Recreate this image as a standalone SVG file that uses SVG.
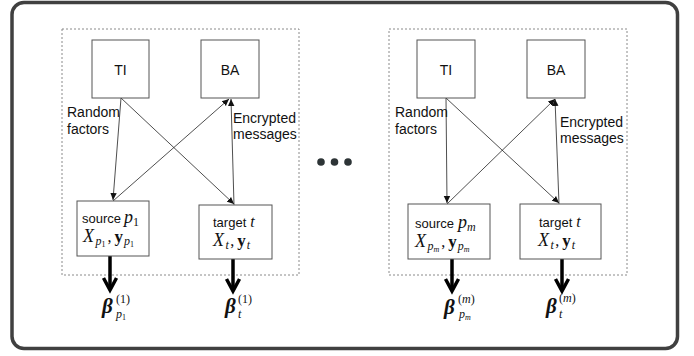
<svg xmlns="http://www.w3.org/2000/svg" width="694" height="356" viewBox="0 0 694 356">
<defs>
<marker id="ah" markerWidth="8" markerHeight="8" refX="7" refY="4" orient="auto" markerUnits="userSpaceOnUse">
<path d="M0,0.8 L7,4 L0,7.2 Z" fill="#111"/>
</marker>
<style>
.frame{fill:#fff;stroke:#404040;stroke-width:3.5}
.group{fill:none;stroke:#8a8a8a;stroke-width:1;stroke-dasharray:2 2}
.box{fill:#fff;stroke:#555;stroke-width:1}
.sans{font-family:"Liberation Sans",Arial,sans-serif;font-size:14px;fill:#111}
.bs{font-family:"Liberation Sans",Arial,sans-serif;font-size:13px;fill:#111}
.mi{font-family:"Liberation Serif","Times New Roman",serif;font-style:italic;font-weight:normal;fill:#111}
.mr{font-family:"Liberation Serif","Times New Roman",serif;font-style:normal;font-weight:normal;fill:#111}
.mb{font-family:"Liberation Serif","Times New Roman",serif;font-style:normal;font-weight:bold;fill:#111}
.beta{font-family:"Liberation Serif","Times New Roman",serif;font-weight:bold;font-style:italic;font-size:21px;fill:#111}
.thin{stroke:#222;stroke-width:0.8;fill:none;marker-end:url(#ah)}
.thick{stroke:#000;stroke-width:3.5;fill:none}
.dot{fill:#2d3436}
</style>
</defs>
<rect class="frame" x="12" y="2.5" width="665.5" height="346" rx="12"/>
<rect class="group" x="62" y="29" width="237" height="246"/>
<rect class="group" x="389" y="29" width="238" height="246"/>

<g id="connectors">
<line class="thin" x1="121" y1="98" x2="113" y2="200"/>
<line class="thin" x1="121" y1="98" x2="234" y2="204"/>
<line class="thin" x1="113" y1="201" x2="229" y2="99"/>
<line class="thin" x1="234" y1="205" x2="231" y2="99"/>
<line class="thin" x1="446" y1="98" x2="447" y2="203"/>
<line class="thin" x1="446" y1="98" x2="559" y2="203"/>
<line class="thin" x1="447" y1="204" x2="555" y2="99"/>
<line class="thin" x1="559" y1="204" x2="555" y2="99"/>
<line class="thick" x1="110" y1="256" x2="110" y2="289"/>
<polyline class="thick" points="103.5,278 110,290 116.5,278"/>
<line class="thick" x1="233" y1="259" x2="233" y2="290"/>
<polyline class="thick" points="226.5,279 233,291 239.5,279"/>
<line class="thick" x1="452" y1="259" x2="452" y2="290"/>
<polyline class="thick" points="445.5,279 452,291 458.5,279"/>
<line class="thick" x1="562" y1="259" x2="562" y2="290"/>
<polyline class="thick" points="555.5,279 562,291 568.5,279"/>
</g>

<g id="labels">
<text class="sans" x="67" y="117">Random</text>
<text class="sans" x="67" y="134">factors</text>
<text class="sans" x="233" y="123">Encrypted</text>
<text class="sans" x="233" y="139">messages</text>
<text class="sans" x="395" y="117">Random</text>
<text class="sans" x="395" y="134">factors</text>
<text class="sans" x="560" y="127">Encrypted</text>
<text class="sans" x="560" y="143">messages</text>
</g>

<g id="dots">
<circle class="dot" cx="321" cy="162" r="3.8"/>
<circle class="dot" cx="334.5" cy="162" r="3.8"/>
<circle class="dot" cx="348" cy="162" r="3.8"/>
</g>

<g id="ti1">
<rect class="box" x="92" y="40" width="57" height="58"/>
<text class="sans" x="120.5" y="75" text-anchor="middle">TI</text>
</g>
<g id="ba1">
<rect class="box" x="201" y="40" width="58" height="58"/>
<text class="sans" x="230" y="75" text-anchor="middle">BA</text>
</g>
<g id="source1">
<rect class="box" x="77" y="201" width="72" height="55"/>
<text x="82" y="223"><tspan class="bs">source</tspan><tspan class="mi" font-size="18" dx="3">p</tspan><tspan class="mr" font-size="12" dy="3">1</tspan></text>
<text x="83" y="242"><tspan class="mi" font-size="18">X</tspan><tspan class="mi" font-size="12" dx="1.5" dy="3">p</tspan><tspan class="mr" font-size="8" dy="2">1</tspan><tspan class="mr" font-size="16" dx="2" dy="-5">,</tspan><tspan class="mb" font-size="17" dx="3">y</tspan><tspan class="mi" font-size="12" dx="1" dy="3">p</tspan><tspan class="mr" font-size="8" dy="2">1</tspan></text>
</g>
<g id="target1">
<rect class="box" x="199" y="205" width="73" height="54"/>
<text x="213" y="227"><tspan class="bs">target</tspan><tspan class="mi" font-size="16" dx="4">t</tspan></text>
<text x="213" y="246"><tspan class="mi" font-size="18">X</tspan><tspan class="mi" font-size="12" dx="1.5" dy="3">t</tspan><tspan class="mr" font-size="16" dx="1.5" dy="-3">,</tspan><tspan class="mb" font-size="17" dx="3">y</tspan><tspan class="mi" font-size="12" dx="1" dy="3">t</tspan></text>
</g>
<g id="beta1">
<text class="beta" x="102" y="313">β</text>
<text class="mr" x="116" y="303" font-size="12">(1)</text>
<text x="116" y="318"><tspan class="mi" font-size="12">p</tspan><tspan class="mr" font-size="8" dy="2">1</tspan></text>
</g>
<g id="betat1">
<text class="beta" x="225" y="313">β</text>
<text class="mr" x="238" y="303" font-size="12">(1)</text>
<text class="mi" x="238" y="318" font-size="12">t</text>
</g>

<g id="ti2">
<rect class="box" x="417" y="40" width="58" height="58"/>
<text class="sans" x="446" y="75" text-anchor="middle">TI</text>
</g>
<g id="ba2">
<rect class="box" x="527" y="40" width="58" height="58"/>
<text class="sans" x="556" y="75" text-anchor="middle">BA</text>
</g>
<g id="source2">
<rect class="box" x="408" y="204" width="82" height="55"/>
<text x="415" y="228"><tspan class="bs">source</tspan><tspan class="mi" font-size="18" dx="4">p</tspan><tspan class="mi" font-size="12" dy="3">m</tspan></text>
<text x="415" y="247"><tspan class="mi" font-size="18">X</tspan><tspan class="mi" font-size="12" dx="1.5" dy="3">p</tspan><tspan class="mi" font-size="8" dy="2">m</tspan><tspan class="mr" font-size="16" dx="2" dy="-5">,</tspan><tspan class="mb" font-size="17" dx="3">y</tspan><tspan class="mi" font-size="12" dx="1" dy="3">p</tspan><tspan class="mi" font-size="8" dy="2">m</tspan></text>
</g>
<g id="target2">
<rect class="box" x="520" y="204" width="81" height="55"/>
<text x="539" y="227"><tspan class="bs">target</tspan><tspan class="mi" font-size="16" dx="4">t</tspan></text>
<text x="538" y="246"><tspan class="mi" font-size="18">X</tspan><tspan class="mi" font-size="12" dx="1.5" dy="3">t</tspan><tspan class="mr" font-size="16" dx="1.5" dy="-3">,</tspan><tspan class="mb" font-size="17" dx="3">y</tspan><tspan class="mi" font-size="12" dx="1" dy="3">t</tspan></text>
</g>
<g id="beta2">
<text class="beta" x="444" y="314">β</text>
<text class="mr" x="458" y="303" font-size="12">(<tspan class="mi">m</tspan>)</text>
<text x="459" y="318"><tspan class="mi" font-size="12">p</tspan><tspan class="mi" font-size="8" dy="2">m</tspan></text>
</g>
<g id="betat2">
<text class="beta" x="546" y="313">β</text>
<text class="mr" x="559" y="302" font-size="12">(<tspan class="mi">m</tspan>)</text>
<text class="mi" x="559" y="318" font-size="12">t</text>
</g>
</svg>
